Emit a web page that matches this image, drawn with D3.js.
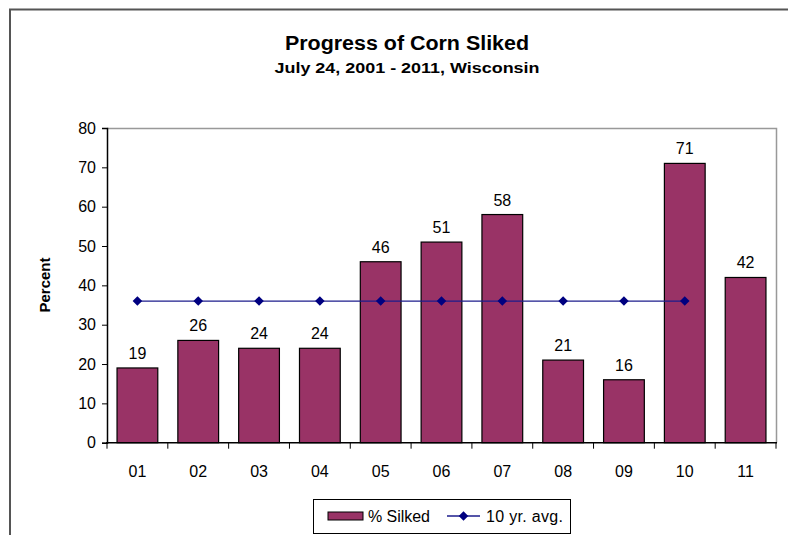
<!DOCTYPE html>
<html>
<head>
<meta charset="utf-8">
<script src="https://cdn.jsdelivr.net/npm/d3@7"></script>
<style>
  body { margin: 0; background: #fff; }
  text { font-family: "Liberation Sans", Arial, sans-serif; }
</style>
</head>
<body>
<div id="chart"></div>
<script>
// data
var years = ["01", "02", "03", "04", "05", "06", "07", "08", "09", "10", "11"];
var silked = [19, 26, 24, 24, 46, 51, 58, 21, 16, 71, 42];
var avgYears = ["01", "02", "03", "04", "05", "06", "07", "08", "09", "10"];
var avgValues = [36, 36, 36, 36, 36, 36, 36, 36, 36, 36];
var yTicks = [0, 10, 20, 30, 40, 50, 60, 70, 80];

var W = 788, H = 535;
var plot = { left: 107, right: 776, top: 128, bottom: 442.7 };

var svg = d3.select("#chart").append("svg")
  .attr("width", W)
  .attr("height", H);

// outer frame (only top and left are visible)
svg.append("path")
  .attr("d", "M10,540 L10,9.5 L800,9.5")
  .attr("fill", "none")
  .attr("stroke", "#555")
  .attr("stroke-width", 2);

// titles
svg.append("text")
  .attr("x", 407).attr("y", 50)
  .attr("text-anchor", "middle")
  .style("font-size", "20px")
  .style("font-weight", "bold")
  .attr("textLength", 244)
  .attr("lengthAdjust", "spacingAndGlyphs")
  .text("Progress of Corn Sliked");

svg.append("text")
  .attr("x", 407).attr("y", 73)
  .attr("text-anchor", "middle")
  .style("font-size", "15.5px")
  .style("font-weight", "bold")
  .attr("textLength", 265)
  .attr("lengthAdjust", "spacingAndGlyphs")
  .text("July 24,  2001 - 2011,  Wisconsin");

// scales
var x = d3.scaleBand()
  .domain(years)
  .range([plot.left, plot.right])
  .paddingInner(0.33)
  .paddingOuter(0.165);

var xEdge = d3.scaleBand()
  .domain(years)
  .range([plot.left, plot.right]);

var y = d3.scaleLinear()
  .domain([0, 80])
  .range([plot.bottom, plot.top]);

// plot area border (top, right)
svg.append("path")
  .attr("d", "M" + plot.left + "," + (plot.top + 0.5) + " L" + (plot.right + 0.5) + "," + (plot.top + 0.5) + " L" + (plot.right + 0.5) + "," + plot.bottom)
  .attr("fill", "none")
  .attr("stroke", "#999")
  .attr("stroke-width", 1.5);

// bars
svg.selectAll("rect.bar")
  .data(silked)
  .enter()
  .append("rect")
    .attr("class", "bar")
    .attr("x", function(d, i) { return x(years[i]); })
    .attr("y", function(d) { return y(d); })
    .attr("width", x.bandwidth())
    .attr("height", function(d) { return plot.bottom - y(d); })
    .attr("fill", "#993366")
    .attr("stroke", "#000")
    .attr("stroke-width", 1.2);

// value labels
svg.selectAll("text.val")
  .data(silked)
  .enter()
  .append("text")
    .attr("class", "val")
    .attr("x", function(d, i) { return x(years[i]) + x.bandwidth() / 2; })
    .attr("y", function(d) { return y(d) - 9; })
    .attr("text-anchor", "middle")
    .style("font-size", "16px")
    .text(function(d) { return d; });

// 10 yr avg line
var line = d3.line()
  .x(function(d, i) { return x(avgYears[i]) + x.bandwidth() / 2; })
  .y(function(d) { return y(d); });

svg.append("path")
  .datum(avgValues)
  .attr("d", line)
  .attr("fill", "none")
  .attr("stroke", "#1c1c8c")
  .attr("stroke-width", 1.3);

var diamond = d3.symbol().type(d3.symbolDiamond2).size(58);
svg.selectAll("path.mk")
  .data(avgValues)
  .enter()
  .append("path")
    .attr("class", "mk")
    .attr("d", diamond)
    .attr("transform", function(d, i) {
      return "translate(" + (x(avgYears[i]) + x.bandwidth() / 2) + "," + y(d) + ")";
    })
    .attr("fill", "#000080");

// axes
var yAxis = svg.append("g")
  .attr("transform", "translate(" + plot.left + ",0)")
  .call(d3.axisLeft(y).tickValues(yTicks).tickSize(5).tickPadding(6));
yAxis.select(".domain").attr("stroke", "#000").attr("stroke-width", 1.5);
yAxis.selectAll("text").style("font-size", "16px").attr("fill", "#000");

var xAxis = svg.append("g")
  .attr("transform", "translate(0," + plot.bottom + ")");
xAxis.append("line")
  .attr("x1", plot.left - 1).attr("x2", plot.right + 1)
  .attr("stroke", "#000").attr("stroke-width", 1.5);
xAxis.selectAll("line.tk")
  .data(years.concat(["end"]))
  .enter()
  .append("line")
    .attr("class", "tk")
    .attr("x1", function(d, i) { return i < years.length ? xEdge(d) : plot.right; })
    .attr("x2", function(d, i) { return i < years.length ? xEdge(d) : plot.right; })
    .attr("y1", 0).attr("y2", 6)
    .attr("stroke", "#000");
xAxis.selectAll("text")
  .data(years)
  .enter()
  .append("text")
    .attr("x", function(d) { return x(d) + x.bandwidth() / 2; })
    .attr("y", 34)
    .attr("text-anchor", "middle")
    .style("font-size", "16px")
    .text(function(d) { return d; });

// y axis title
svg.append("text")
  .attr("transform", "translate(50,285) rotate(-90)")
  .attr("text-anchor", "middle")
  .style("font-size", "15px")
  .style("font-weight", "bold")
  .text("Percent");

// legend
var lg = svg.append("g");
lg.append("rect")
  .attr("x", 313.5).attr("y", 499.5)
  .attr("width", 257).attr("height", 34)
  .attr("fill", "#fff").attr("stroke", "#000");
lg.append("rect")
  .attr("x", 328).attr("y", 512)
  .attr("width", 35).attr("height", 8)
  .attr("fill", "#993366").attr("stroke", "#000");
lg.append("text")
  .attr("x", 368).attr("y", 522)
  .style("font-size", "16px")
  .attr("textLength", 62)
  .text("% Silked");
lg.append("line")
  .attr("x1", 447).attr("x2", 480)
  .attr("y1", 516).attr("y2", 516)
  .attr("stroke", "#1c1c8c").attr("stroke-width", 1.3);
lg.append("path")
  .attr("d", diamond)
  .attr("transform", "translate(463.5,516)")
  .attr("fill", "#000080");
lg.append("text")
  .attr("x", 486).attr("y", 522)
  .style("font-size", "16px")
  .attr("textLength", 77)
  .text("10 yr. avg.");
</script>
</body>
</html>
